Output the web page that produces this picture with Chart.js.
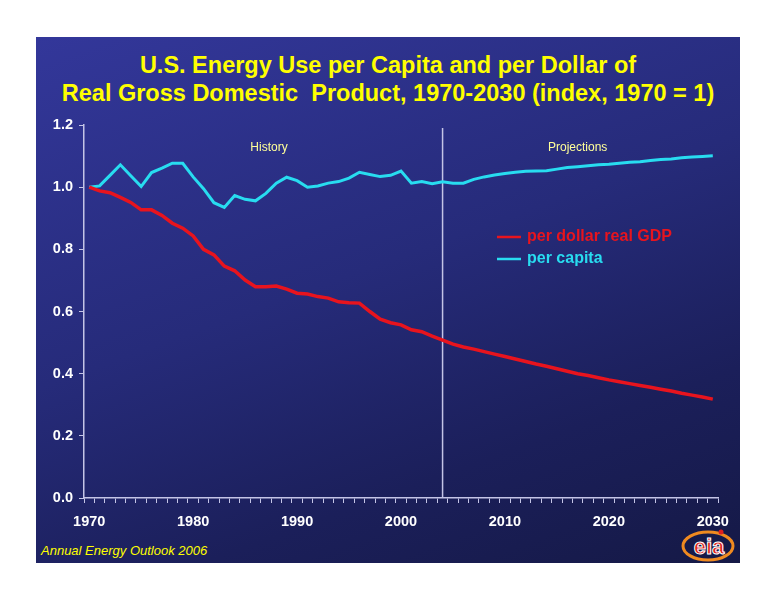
<!DOCTYPE html>
<html>
<head>
<meta charset="utf-8">
<script src="https://cdn.jsdelivr.net/npm/chart.js@4.4.1/dist/chart.umd.min.js"></script>
<style>
  html, body { margin: 0; padding: 0; background: #ffffff; }
  #page { position: relative; width: 776px; height: 600px; overflow: hidden; }
  #slide {
    position: absolute; left: 36px; top: 37px; width: 704px; height: 526px;
    background: linear-gradient(160deg, #33379a 0%, #262b7a 45%, #1b1f5a 75%, #151946 100%);
  }
  #title {
    position: absolute; left: 36px; top: 51px; width: 704px; text-align: center;
    font-family: "Liberation Sans", Arial, sans-serif; font-weight: bold; font-size: 23.5px;
    line-height: 28px; color: #ffff00; white-space: pre;
  }
  #footer {
    position: absolute; left: 41px; top: 543px;
    font-family: "Liberation Sans", Arial, sans-serif; font-style: italic; font-size: 13px;
    color: #ffff00;
  }
  #logo { position: absolute; left: 680px; top: 527px; }
  canvas { position: absolute; left: 0; top: 0; }
</style>
</head>
<body>
<div id="page">
  <div id="slide"></div>
  <div id="title">U.S. Energy Use per Capita and per Dollar of
Real Gross Domestic  Product, 1970-2030 (index, 1970 = 1)</div>
  <div id="footer">Annual Energy Outlook 2006</div>
  <svg id="logo" width="58" height="36" viewBox="0 0 58 36">
    <ellipse cx="28" cy="19" rx="25" ry="14" fill="none" stroke="#f08a20" stroke-width="3"/>
    <circle cx="41" cy="5" r="2.5" fill="#e02020"/>
    <text x="29" y="27" text-anchor="middle" font-family="Liberation Sans, Arial" font-weight="bold"
          font-size="22" fill="#e02018" stroke="#ffffff" stroke-width="1">eia</text>
  </svg>
  <canvas id="chart" width="776" height="600"></canvas>
</div>
<script>
// years on the category axis
const years = [];
for (let y = 1970; y <= 2030; y++) years.push(String(y));

// energy use per dollar of real GDP (index, 1970 = 1)
const perDollarGDP = [
  1.000, 0.988, 0.982, 0.967, 0.951, 0.927, 0.927, 0.909, 0.884, 0.868,
  0.843, 0.800, 0.782, 0.746, 0.731, 0.701, 0.680, 0.680, 0.682, 0.672,
  0.659, 0.656, 0.648, 0.643, 0.631, 0.628, 0.627, 0.600, 0.575, 0.564,
  0.557, 0.541, 0.535, 0.521, 0.508, 0.495, 0.486, 0.479, 0.471, 0.463,
  0.455, 0.447, 0.439, 0.431, 0.424, 0.416, 0.408, 0.400, 0.394, 0.387,
  0.380, 0.374, 0.368, 0.362, 0.356, 0.350, 0.344, 0.337, 0.331, 0.325,
  0.318
];

// energy use per capita (index, 1970 = 1)
const perCapita = [
  1.000, 1.004, 1.038, 1.072, 1.037, 1.002, 1.047, 1.061, 1.077, 1.077,
  1.033, 0.995, 0.950, 0.935, 0.973, 0.961, 0.956, 0.980, 1.013, 1.032,
  1.021, 1.000, 1.004, 1.013, 1.018, 1.029, 1.048, 1.041, 1.034, 1.038,
  1.052, 1.013, 1.018, 1.011, 1.017, 1.013, 1.013, 1.025, 1.033, 1.039,
  1.044, 1.048, 1.051, 1.052, 1.053, 1.058, 1.063, 1.066, 1.069, 1.072,
  1.074, 1.077, 1.080, 1.082, 1.086, 1.089, 1.091, 1.095, 1.097, 1.099,
  1.101
];

const yTicks = [0, 0.2, 0.4, 0.6, 0.8, 1.0, 1.2];
const splitYear = '2004';

const FONT = '"Liberation Sans", Arial, sans-serif';
const RED = '#e8141e';
const CYAN = '#28dcf0';
const AXIS = '#c4c4e6';

// history / projections divider and the two labels
const dividerPlugin = {
    id: 'divider',
    beforeDatasetsDraw(chart) {
        const { ctx, chartArea, scales } = chart;
        const idx = years.indexOf(splitYear);
        const x = scales.x.getPixelForValue(idx);
        ctx.save();
        ctx.strokeStyle = AXIS;
        ctx.lineWidth = 1.5;
        ctx.beginPath();
        ctx.moveTo(x, chartArea.top + 3);
        ctx.lineTo(x, chartArea.bottom);
        ctx.stroke();

        ctx.fillStyle = '#ffff99';
        ctx.font = '12px ' + FONT;
        ctx.textAlign = 'center';
        ctx.textBaseline = 'middle';
        ctx.fillText('History', scales.x.getPixelForValue(17.3), chartArea.top + 23);
        ctx.fillText('Projections', scales.x.getPixelForValue(47), chartArea.top + 23);
        ctx.restore();
    }
};

// legend drawn inside the plot area
const insideLegend = {
    id: 'insideLegend',
    afterDatasetsDraw(chart) {
        const { ctx } = chart;
        ctx.save();
        ctx.font = 'bold 16px ' + FONT;
        ctx.textBaseline = 'middle';
        chart.data.datasets.forEach((ds, i) => {
            const y = 237 + i * 22;
            ctx.strokeStyle = ds.borderColor;
            ctx.lineWidth = 2.5;
            ctx.beginPath();
            ctx.moveTo(497, y);
            ctx.lineTo(521, y);
            ctx.stroke();
            ctx.fillStyle = ds.borderColor;
            ctx.fillText(ds.label, 527, y);
        });
        ctx.restore();
    }
};

new Chart(document.getElementById('chart'), {
    type: 'line',
    data: {
        labels: years,
        datasets: [
            {
                label: 'per dollar real GDP',
                data: perDollarGDP,
                borderColor: RED,
                borderWidth: 3.5,
                pointRadius: 0,
                tension: 0
            },
            {
                label: 'per capita',
                data: perCapita,
                borderColor: CYAN,
                borderWidth: 3,
                pointRadius: 0,
                tension: 0
            }
        ]
    },
    options: {
        responsive: false,
        animation: false,
        layout: { padding: { left: 34, right: 58, top: 125, bottom: 72 } },
        plugins: {
            legend: { display: false },
            tooltip: { enabled: false }
        },
        scales: {
            x: {
                type: 'category',
                offset: true,
                afterFit: scale => { scale.height = 30; },
                grid: {
                    offset: true,
                    drawOnChartArea: false,
                    color: AXIS,
                    tickLength: 5
                },
                border: { color: AXIS, width: 1.5 },
                ticks: {
                    autoSkip: false,
                    maxRotation: 0,
                    padding: 10,
                    color: '#ffffff',
                    font: { family: FONT, weight: 'bold', size: 14.5 },
                    callback: function(value) {
                        const label = this.getLabelForValue(value);
                        return Number(label) % 10 === 0 ? label : '';
                    }
                }
            },
            y: {
                min: 0,
                max: 1.2,
                afterFit: scale => { scale.width = 50; },
                afterBuildTicks: scale => { scale.ticks = yTicks.map(v => ({ value: v })); },
                grid: {
                    drawOnChartArea: false,
                    color: AXIS,
                    tickLength: 5
                },
                border: { color: AXIS, width: 1.5 },
                ticks: {
                    padding: 6,
                    color: '#ffffff',
                    font: { family: FONT, weight: 'bold', size: 14.5 },
                    callback: v => v.toFixed(1)
                }
            }
        }
    },
    plugins: [dividerPlugin, insideLegend]
});
</script>
</body>
</html>
